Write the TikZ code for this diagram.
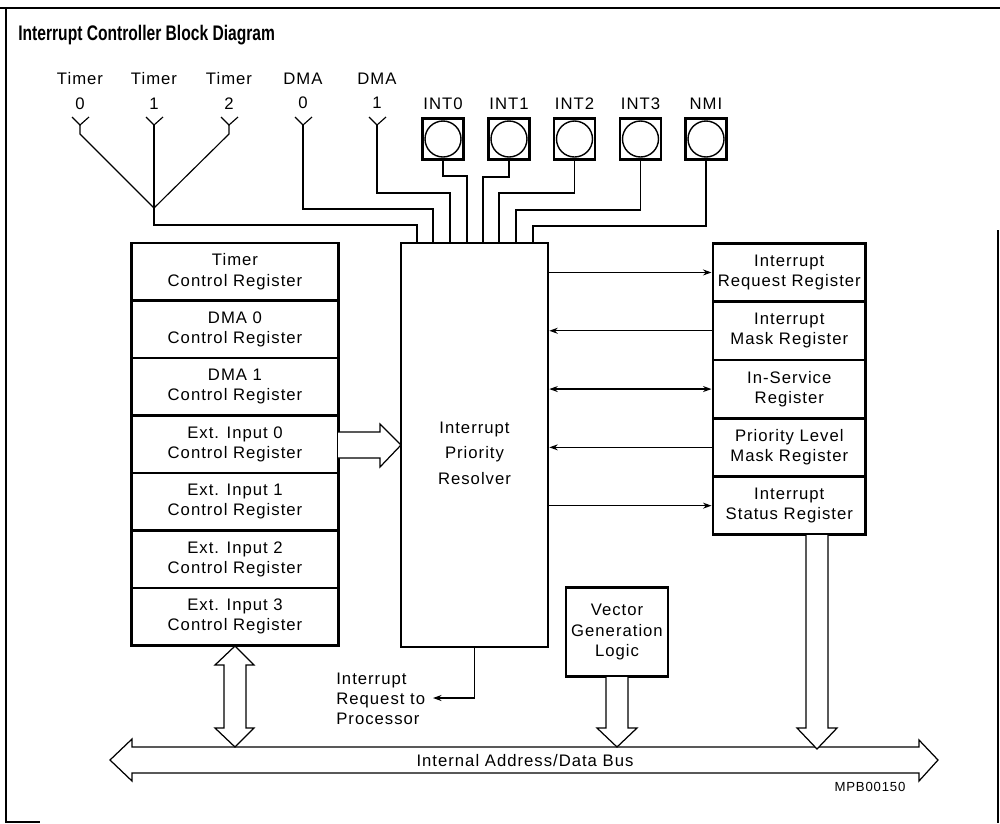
\documentclass[tikz,border=0pt]{standalone}
\usepackage{fontspec}
\setmainfont{Liberation Sans}
\newfontfamily\din[LetterSpace=6]{Liberation Sans}
\usetikzlibrary{arrows.meta}
\begin{document}
\begin{tikzpicture}[x=0.02cm,y=-0.02cm,
  thinln/.style={line width=0.65pt},
  boxln/.style={draw, line width=1.5pt},
  txt/.style={font=\din\fontsize{9.5}{11.5}\selectfont, align=center, inner sep=0pt},
  wtxt/.style={font=\din\fontsize{9.5}{13.8}\selectfont, align=center, inner sep=0pt},
  lreg/.style={boxln, txt, minimum width=4.13cm, minimum height=1.15cm},
  rreg/.style={boxln, txt, minimum width=3.06cm, minimum height=1.166cm},
  intbox/.style={boxln, minimum size=0.82cm, inner sep=0pt},
  sig/.style={thinln, -{Stealth[length=1.7mm,width=1.2mm]}},
  sigboth/.style={thinln, {Stealth[length=1.7mm,width=1.2mm]}-{Stealth[length=1.7mm,width=1.2mm]}},
  hollow/.style={draw, line width=0.7pt, fill=white, line join=miter},
  antenna/.style={thinln}]
\useasboundingbox (0,0) rectangle (1000,823);

% frame
\draw[line width=1.6pt] (0,8) -- (1000,8);
\draw[line width=0.9pt] (6,8) -- (6,822) -- (40,822);
\draw[line width=0.9pt] (998,230) -- (998,823);

% title
\node[anchor=base west, inner sep=0pt, font=\bfseries\fontsize{12}{14}\selectfont] (title) at (18,40)
  {\scalebox{0.74}[1]{Interrupt Controller Block Diagram}};

% top labels
\node[wtxt] (lt0) at (80,91) {Timer\\0};
\node[wtxt] (lt1) at (154,91) {Timer\\1};
\node[wtxt] (lt2) at (229,91) {Timer\\2};
\node[wtxt] (ld0) at (303,91) {DMA\\0};
\node[wtxt] (ld1) at (377,91) {DMA\\1};

% antenna symbols
\foreach \n/\x in {a0/80,a1/154,a2/229,a3/303,a4/377}{
  \coordinate (\n) at (\x,125);
  \draw[antenna] (\x-8,117) -- (\n) -- (\x+9,117);
}

% INT pins
\foreach \n/\x/\t in {i0/443/INT0,i1/509/INT1,i2/574.5/INT2,i3/640.5/INT3,i4/706/NMI}{
  \node[intbox] (\n) at (\x,139) {};
  \draw[line width=0.8pt] (\n) circle (0.36cm);
  \node[txt] (\n l) at (\x,104) {\t};
}

% resolver
\node[boxln, minimum width=2.94cm, minimum height=8.08cm, inner sep=0pt] (res) at (474.5,445) {};
\node[font=\din\fontsize{9.5}{14.5}\selectfont, align=center, inner sep=0pt] (restxt) at (474.5,453) {Interrupt\\Priority\\Resolver};

% timer / dma lines
\coordinate (tj) at (154,208);
\draw[thinln] (a0) -- (80,134) -- (tj);
\draw[thinln] (a2) -- (229,134) -- (tj);
\draw[thinln] (a1) -- (tj) -- (154,225) -- (417,225) -- (417,0 |- res.north);
\draw[thinln] (a3) -- (303,209) -- (433,209) -- (433,0 |- res.north);
\draw[thinln] (a4) -- (377,193) -- (450,193) -- (450,0 |- res.north);

% INT lines
\draw[thinln] (i0.south) -- (443,176) -- (467,176) -- (467,0 |- res.north);
\draw[thinln] (i1.south) -- (509,177) -- (483,177) -- (483,0 |- res.north);
\draw[thinln] (i2.south) -- (574.5,193) -- (499,193) -- (499,0 |- res.north);
\draw[thinln] (i3.south) -- (640.5,210) -- (516,210) -- (516,0 |- res.north);
\draw[thinln] (i4.south) -- (706,226) -- (533,226) -- (533,0 |- res.north);

% left register stack
\node[lreg] (l1) at (235,271.75) {Timer\\Control Register};
\node[lreg] (l2) at (235,329.25) {DMA 0\\Control Register};
\node[lreg] (l3) at (235,386.75) {DMA 1\\Control Register};
\node[lreg] (l4) at (235,444.25) {Ext. Input 0\\Control Register};
\node[lreg] (l5) at (235,501.75) {Ext. Input 1\\Control Register};
\node[lreg] (l6) at (235,559.25) {Ext. Input 2\\Control Register};
\node[lreg] (l7) at (235,616.75) {Ext. Input 3\\Control Register};

% right register stack
\node[rreg] (r1) at (789.3,272.45) {Interrupt\\Request Register};
\node[rreg] (r2) at (789.3,330.75) {Interrupt\\Mask Register};
\node[rreg] (r3) at (789.3,389.05) {In-Service\\Register};
\node[rreg] (r4) at (789.3,447.35) {Priority Level\\Mask Register};
\node[rreg] (r5) at (789.3,505.65) {Interrupt\\Status Register};

% resolver <-> registers
\draw[sig] (res.east |- r1) -- (r1.west);
\draw[sig] (r2.west) -- (res.east |- r2);
\draw[sigboth] (res.east |- r3) -- (r3.west);
\draw[sig] (r4.west) -- (res.east |- r4);
\draw[sig] (res.east |- r5) -- (r5.west);

% hollow arrow: left stack -> resolver
\draw[hollow] (338,432) -- (380,432) -- (380,424) -- (401,445) -- (380,467) -- (380,458) -- (338,458);

% vector generation logic
\node[boxln, txt, minimum width=2.04cm, minimum height=1.78cm] (vgl) at (617,632) {Vector\\Generation\\Logic};

% interrupt request to processor
\coordinate (irqc) at (474.5,698);
\draw[sig] (474.5,0 |- res.south) -- (irqc) -- (433,698);
\node[txt, align=left, anchor=west] (irq) at (336,699) {Interrupt\\Request to\\Processor};

% bus
\draw[hollow] (132,747) -- (919,747) -- (919,740) -- (938,760) -- (919,781) -- (919,773)
  -- (132,773) -- (132,781) -- (110,760) -- (132,739) -- cycle;
\node[txt] (bus) at (525,761) {Internal Address/Data Bus};
\node[txt, font=\din\fontsize{7.5}{9}\selectfont] (mpb) at (870,787) {MPB00150};

% left double hollow arrow
\draw[hollow] (235,646) -- (254,665) -- (246,665) -- (246,728) -- (254,728) -- (235,747)
  -- (215,728) -- (224,728) -- (224,665) -- (215,665) -- cycle;

% vector arrow
\draw[hollow] (606,677) -- (606,728) -- (597,728) -- (617,747) -- (637,728) -- (628,728) -- (628,677);

% right arrow
\draw[hollow] (806,535) -- (806,728) -- (797,728) -- (817,749) -- (837,728) -- (828,728) -- (828,535);
\end{tikzpicture}
\end{document}
